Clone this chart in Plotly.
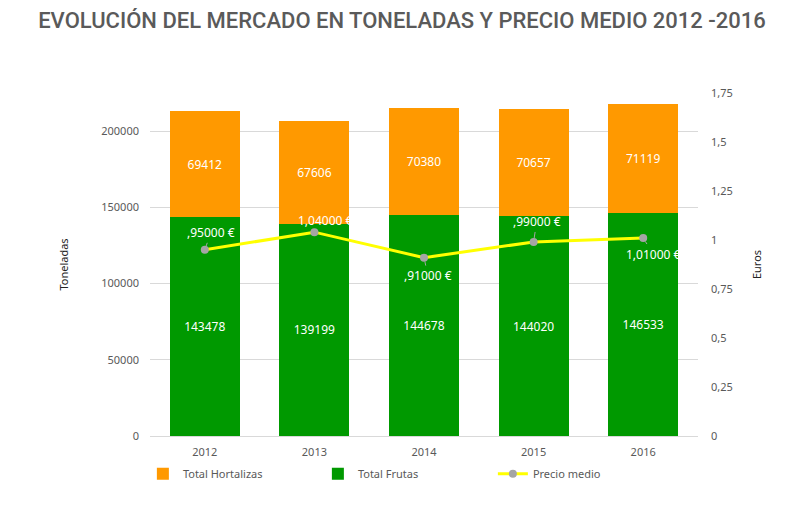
import plotly.graph_objects as go

years = ["2012", "2013", "2014", "2015", "2016"]
frutas = [143478, 139199, 144678, 144020, 146533]
hortalizas = [69412, 67606, 70380, 70657, 71119]
precio = [0.95, 1.04, 0.91, 0.99, 1.01]
precio_labels = [",95000 €", "1,04000 €", ",91000 €", ",99000 €", "1,01000 €"]
label_offsets = [(6, -17), (11, -12), (4, 18), (3, -20), (10, 16)]

FONT = "Noto Sans"
GRAY = "#595959"

fig = go.Figure()
fig.add_trace(go.Bar(
    x=years, y=frutas, name="Total Frutas", marker_color="#009900",
    marker_line_width=0,
    text=[str(v) for v in frutas], textposition="inside", insidetextanchor="middle",
    textfont=dict(color="white", size=12, family=FONT), legendrank=2,
))
fig.add_trace(go.Bar(
    x=years, y=hortalizas, name="Total Hortalizas", marker_color="#FF9900",
    marker_line_width=0,
    text=[str(v) for v in hortalizas], textposition="inside", insidetextanchor="middle",
    textfont=dict(color="white", size=12, family=FONT), legendrank=1,
))
fig.add_trace(go.Scatter(
    x=years, y=precio, name="Precio medio", yaxis="y2", mode="lines+markers",
    line=dict(color="#FFFF00", width=3), marker=dict(color="#A5A5A5", size=8),
    legendrank=3,
))

for i, (p, lab, (ax, ay)) in enumerate(zip(precio, precio_labels, label_offsets)):
    fig.add_annotation(
        x=i, y=p, xref="x", yref="y2", text=lab, showarrow=True,
        ax=ax, ay=ay, arrowhead=0, arrowwidth=1, arrowcolor="#A5A5A5",
        standoff=4, font=dict(color="white", size=12, family=FONT),
    )

fig.update_layout(
    width=800, height=500,
    barmode="stack", bargap=0.36,
    plot_bgcolor="white", paper_bgcolor="white",
    margin=dict(l=142, r=110, t=85, b=72),
    font=dict(family=FONT, size=11, color=GRAY),
    title=dict(
        text="EVOLUCIÓN DEL MERCADO EN TONELADAS Y PRECIO MEDIO 2012 -2016",
        x=0.4925, xanchor="center", y=0.976, yanchor="middle",
        font=dict(family="Roboto", size=22, color="#5a5a5a", weight=500),
    ),
    xaxis=dict(type="category", showgrid=False, showline=True, linecolor="#D9D9D9",
               tickfont=dict(size=11, color=GRAY), ticklabelstandoff=6),
    yaxis=dict(range=[0, 225000], tickvals=[0, 50000, 100000, 150000, 200000],
               ticktext=["0", "50000", "100000", "150000", "200000"],
               showgrid=True, gridcolor="#D9D9D9", zeroline=False,
               tickfont=dict(size=11, color=GRAY), ticklabelstandoff=10,
               title=dict(text="Toneladas", standoff=30,
                          font=dict(size=11, color="#222"))),
    yaxis2=dict(range=[0, 1.75], overlaying="y", side="right",
                tickvals=[0, 0.25, 0.5, 0.75, 1, 1.25, 1.5, 1.75],
                ticktext=["0", "0,25", "0,5", "0,75", "1", "1,25", "1,5", "1,75"],
                showgrid=False, zeroline=False,
                tickfont=dict(size=11, color=GRAY), ticklabelstandoff=12,
                title=dict(text="Euros", standoff=21,
                           font=dict(size=11, color="#222"))),
    legend=dict(orientation="h", x=-0.013, xanchor="left", y=-0.11, yanchor="middle",
                entrywidth=130, font=dict(size=11, color=GRAY),
                traceorder="normal"),
)

fig.write_html("out.html")
